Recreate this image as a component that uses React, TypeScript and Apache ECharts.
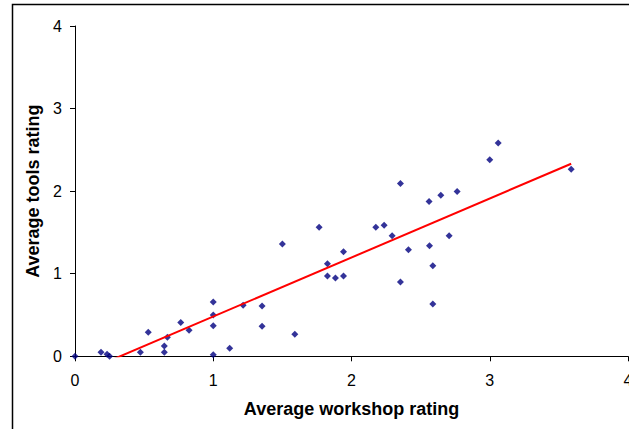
import React, { useEffect, useRef } from "react";
import * as echarts from "echarts";

const workshopRatings = [
  0, 0.188, 0.232, 0.25, 0.473, 0.53, 0.646, 0.646, 0.668, 0.765, 0.825,
  1.0, 1.0, 1.0, 1.0, 1.119, 1.216, 1.353, 1.353, 1.59, 1.5, 1.766, 2.176,
  1.942, 1.826, 1.826, 1.884, 1.942, 2.354, 2.561, 2.646, 2.764, 2.236,
  2.294, 2.412, 2.564, 2.706, 2.588, 2.354, 2.588, 3.061, 3.0, 3.589,
];
const toolsRatings = [
  0, 0.05, 0.024, 0, 0.05, 0.29, 0.05, 0.125, 0.23, 0.41, 0.315,
  0.657, 0.5, 0.37, 0.02, 0.097, 0.617, 0.609, 0.363, 0.266, 1.36, 1.562, 1.562,
  1.267, 1.121, 0.972, 0.948, 0.972, 2.094, 1.876, 1.949, 1.997, 1.586,
  1.46, 1.29, 1.339, 1.46, 1.097, 0.9, 0.633, 2.582, 2.38, 2.264,
];
const trendSlope = 0.7147;
const trendIntercept = -0.233;
const trendXRange = [0, 3.589];
const axisTicks = [0, 1, 2, 3, 4];

export default function App() {
  const ref = useRef<HTMLDivElement>(null);
  useEffect(() => {
    if (!ref.current) return;
    const chart = echarts.init(ref.current, null, { renderer: "svg", width: 629, height: 429 });
    const points = workshopRatings.map((x, i) => [x, toolsRatings[i]]);
    const trend = trendXRange.map((x) => [x, trendSlope * x + trendIntercept]);
    const font = "'Liberation Sans', Arial, sans-serif";
    const axisCommon = {
      type: "value" as const,
      min: axisTicks[0],
      max: axisTicks[axisTicks.length - 1],
      interval: 1,
      splitLine: { show: false },
      axisLine: { show: true, lineStyle: { color: "#000", width: 1 } },
      axisTick: { show: true, length: 5, lineStyle: { color: "#000" } },
      nameLocation: "middle" as const,
      nameTextStyle: { fontFamily: font, fontSize: 18, fontWeight: "bold" as const, color: "#000" },
    };
    chart.setOption({
      animation: false,
      backgroundColor: "#fff",
      grid: { left: 75, top: 26, width: 553, height: 330.3, outerBoundsMode: "none", containLabel: false },
      graphic: [
        {
          type: "rect",
          shape: { x: 12.5, y: 4.5, width: 700, height: 500 },
          style: { fill: "none", stroke: "#000", lineWidth: 1.5 },
          silent: true,
        },
      ],
      xAxis: {
        ...axisCommon,
        name: "Average workshop rating",
        nameGap: 44,
        axisLabel: { fontFamily: font, fontSize: 16, color: "#000", margin: 16 },
      },
      yAxis: {
        ...axisCommon,
        name: "Average tools rating",
        nameGap: 29,
        axisLabel: { fontFamily: font, fontSize: 16, color: "#000", margin: 13 },
      },
      series: [
        {
          type: "scatter",
          data: points,
          symbol: "diamond",
          symbolSize: 7,
          itemStyle: { color: "#000080" },
        },
        {
          type: "line",
          data: trend,
          showSymbol: false,
          symbol: "none",
          lineStyle: { color: "#ff0000", width: 2 },
          clip: true,
        },
      ],
    });
    return () => chart.dispose();
  }, []);
  return (
    <div
      ref={ref}
      style={{ position: "fixed", left: 0, top: 0, width: 629, height: 429, background: "#fff" }}
    />
  );
}
